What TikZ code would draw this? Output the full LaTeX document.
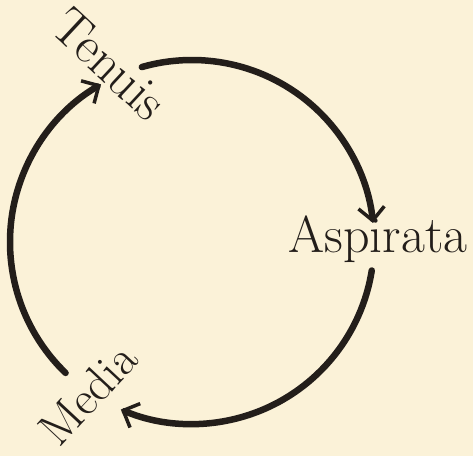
\documentclass[tikz,border=0pt]{standalone}
\usetikzlibrary{arrows.meta}
\definecolor{paper}{RGB}{251,242,216}
\definecolor{ink}{RGB}{35,30,26}
\begin{document}
\begin{tikzpicture}[x=1pt,y=1pt,
                    every node/.style={text=ink,inner sep=0pt,font=\fontsize{52}{52}\selectfont},
                    ring/.style={draw=ink,line width=6.5pt,line cap=round,
                      -{Straight Barb[length=13pt,width=26pt,line width=3.5pt]}}]
  \fill[paper] (0,0) rectangle (473,456);
  \useasboundingbox (0,0) rectangle (473,456);
  \coordinate (ctr) at (192,214);
  \node[rotate=-43] (tenuis) at (110,392) {Tenuis};
  \node[anchor=base] (aspirata) at (378,204) {Aspirata};
  \node[rotate=47,font=\fontsize{48}{48}\selectfont] (media) at (88,62) {Media};
  \draw[ring] ([shift={(106:182)}]ctr) arc[start angle=106,end angle=6,radius=182];
  \draw[ring] ([shift={(-9:182)}]ctr) arc[start angle=-9,end angle=-113,radius=182];
  \draw[ring] ([shift={(226:182)}]ctr) arc[start angle=226,end angle=120,radius=182];
\end{tikzpicture}
\end{document}
